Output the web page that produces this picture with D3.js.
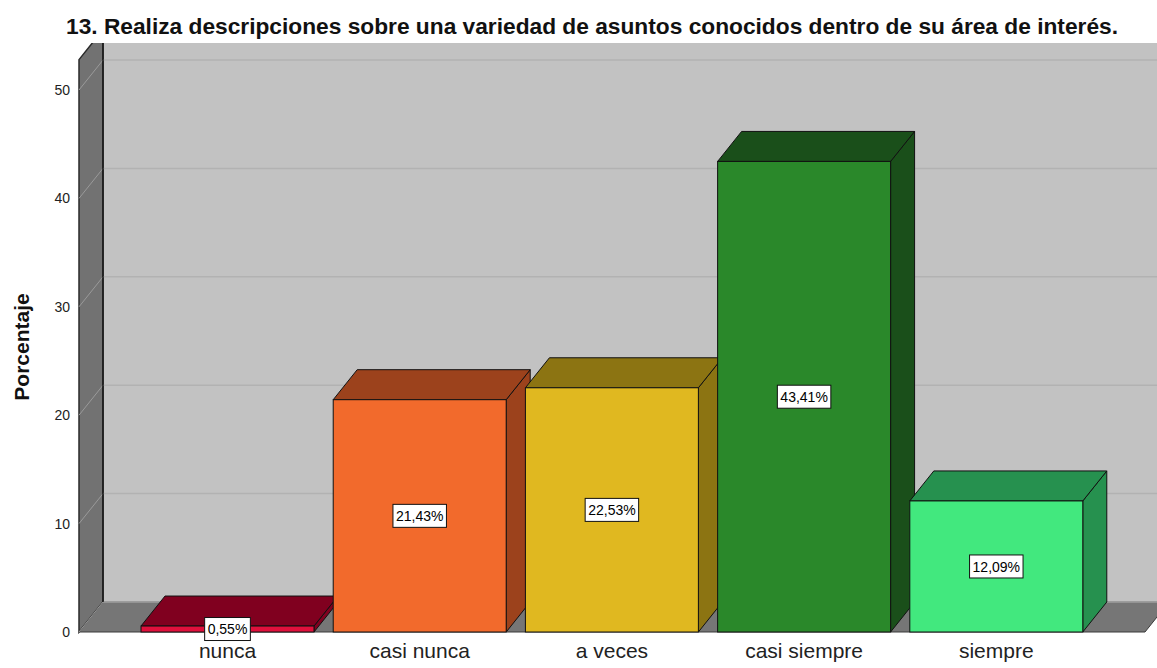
<!DOCTYPE html>
<html>
<head>
<meta charset="utf-8">
<script src="https://cdn.jsdelivr.net/npm/d3@7"></script>
<style>
  html, body { margin: 0; padding: 0; background: #fff; }
  svg { display: block; font-family: "Liberation Sans", Arial, sans-serif; }
</style>
</head>
<body>
<svg id="chart" width="1157" height="668"></svg>
<script>
// Response categories and their percentages
const categories = ["nunca", "casi nunca", "a veces", "casi siempre", "siempre"];
const percentages = [0.55, 21.43, 22.53, 43.41, 12.09];
const valueLabels = ["0,55%", "21,43%", "22,53%", "43,41%", "12,09%"];
const yTicks = [0, 10, 20, 30, 40, 50];

// Face colours per bar: front, then top/side
const frontColors = ["#e0103c", "#f26a2c", "#e0b820", "#2a882a", "#42e87e"];
const depthColors = ["#80001f", "#9c421c", "#8c7412", "#1a4f1a", "#26914f"];

const title = "13. Realiza descripciones sobre una variedad de asuntos conocidos dentro de su área de interés.";

const svg = d3.select("#chart");
const W = 1157, H = 668;

// 3D depth offset of the back plane
const DX = 24, DY = -30;

const y = d3.scaleLinear().domain([0, 50]).range([632, 90]);
const x = d3.scaleBand().domain(categories)
  .range([131.4, 1092.4]).paddingInner(0.1).paddingOuter(0.05);

const wallFrontX = 79;
const wallBackX = wallFrontX + DX;
const floorRight = 1145;
const topClip = 43;

svg.append("defs").append("clipPath").attr("id", "plotClip")
  .append("rect").attr("x", 0).attr("y", topClip).attr("width", W).attr("height", H - topClip);

const plot = svg.append("g").attr("clip-path", "url(#plotClip)");

// Back wall
plot.append("rect")
  .attr("x", wallBackX).attr("y", topClip)
  .attr("width", W - wallBackX).attr("height", y(0) + DY - topClip)
  .attr("fill", "#c2c2c2");

// Left wall
const wallTop = y(52.8);
plot.append("polygon")
  .attr("points", [[wallFrontX, y(0)], [wallFrontX, wallTop], [wallBackX, wallTop + DY], [wallBackX, y(0) + DY]].join(" "))
  .attr("fill", "#727272").attr("stroke", "#2a2a2a").attr("stroke-width", 1.5);

// Floor
plot.append("polygon")
  .attr("points", [[wallFrontX, y(0)], [floorRight, y(0)], [floorRight + DX, y(0) + DY], [wallBackX, y(0) + DY]].join(" "))
  .attr("fill", "#767676").attr("stroke", "#3a3a3a").attr("stroke-width", 1);

// Gridlines on back wall and left wall
yTicks.forEach(v => {
  const yf = y(v);
  plot.append("line")
    .attr("x1", wallBackX).attr("x2", W)
    .attr("y1", yf + DY).attr("y2", yf + DY)
    .attr("stroke", v === 0 ? "#a8a8a8" : "#b2b2b2").attr("stroke-width", 1.5);
  plot.append("line")
    .attr("x1", wallFrontX).attr("y1", yf)
    .attr("x2", wallBackX).attr("y2", yf + DY)
    .attr("stroke", "#9a9a9a").attr("stroke-width", 1);
});

// Edge between left wall and back wall
plot.append("line")
  .attr("x1", wallBackX).attr("x2", wallBackX)
  .attr("y1", topClip).attr("y2", y(0) + DY)
  .attr("stroke", "#1a1a1a").attr("stroke-width", 1.5);

// Bars (front, top and right side faces)
const bars = plot.append("g");
categories.forEach((c, i) => {
  const x0 = x(c), x1 = x(c) + x.bandwidth();
  const yt = y(percentages[i]), yb = y(0);
  const g = bars.append("g");
  // side face
  g.append("polygon")
    .attr("points", [[x1, yb], [x1, yt], [x1 + DX, yt + DY], [x1 + DX, yb + DY]].join(" "))
    .attr("fill", depthColors[i]).attr("stroke", "#111").attr("stroke-width", 1).attr("stroke-linejoin", "round");
  // top face
  g.append("polygon")
    .attr("points", [[x0, yt], [x1, yt], [x1 + DX, yt + DY], [x0 + DX, yt + DY]].join(" "))
    .attr("fill", depthColors[i]).attr("stroke", "#111").attr("stroke-width", 1).attr("stroke-linejoin", "round");
  // front face
  g.append("rect")
    .attr("x", x0).attr("y", yt)
    .attr("width", x.bandwidth()).attr("height", yb - yt)
    .attr("fill", frontColors[i]).attr("stroke", "#111").attr("stroke-width", 1);
});

// Value labels centred on each front face
categories.forEach((c, i) => {
  const cx = x(c) + x.bandwidth() / 2;
  const cy = (y(percentages[i]) + y(0)) / 2;
  const g = svg.append("g").attr("transform", `translate(${cx},${cy})`);
  const t = g.append("text")
    .attr("text-anchor", "middle").attr("dy", "0.36em")
    .attr("font-size", 14).attr("fill", "#000")
    .text(valueLabels[i]);
  const bb = t.node().getBBox();
  g.insert("rect", "text")
    .attr("x", bb.x - 3).attr("y", -11.5)
    .attr("width", bb.width + 6).attr("height", 23)
    .attr("fill", "#fff").attr("stroke", "#111").attr("stroke-width", 1);
});

// Y axis tick labels
const yAxis = d3.axisLeft(y).tickValues(yTicks).tickSize(0).tickPadding(0).tickFormat(d3.format("d"));
const yg = svg.append("g").attr("transform", `translate(70,0)`).call(yAxis);
yg.select(".domain").remove();
yg.selectAll("text").attr("font-size", 14).attr("fill", "#222")
  .attr("font-family", "Liberation Sans, Arial, sans-serif");

// X axis category labels
const xAxis = d3.axisBottom(x).tickSize(0).tickPadding(0);
const xg = svg.append("g").attr("transform", `translate(0,${y(0) + 11})`).call(xAxis);
xg.select(".domain").remove();
xg.selectAll("text").attr("font-size", 21).attr("fill", "#222")
  .attr("font-family", "Liberation Sans, Arial, sans-serif");

// Y axis title
svg.append("text")
  .attr("transform", "translate(29,347) rotate(-90)")
  .attr("text-anchor", "middle")
  .attr("font-size", 21).attr("font-weight", "bold").attr("fill", "#111")
  .text("Porcentaje");

// Chart title
svg.append("text")
  .attr("x", 66).attr("y", 34)
  .attr("font-size", 22).attr("font-weight", "bold").attr("fill", "#111")
  .attr("textLength", 1052).attr("lengthAdjust", "spacingAndGlyphs")
  .text(title);
</script>
</body>
</html>
